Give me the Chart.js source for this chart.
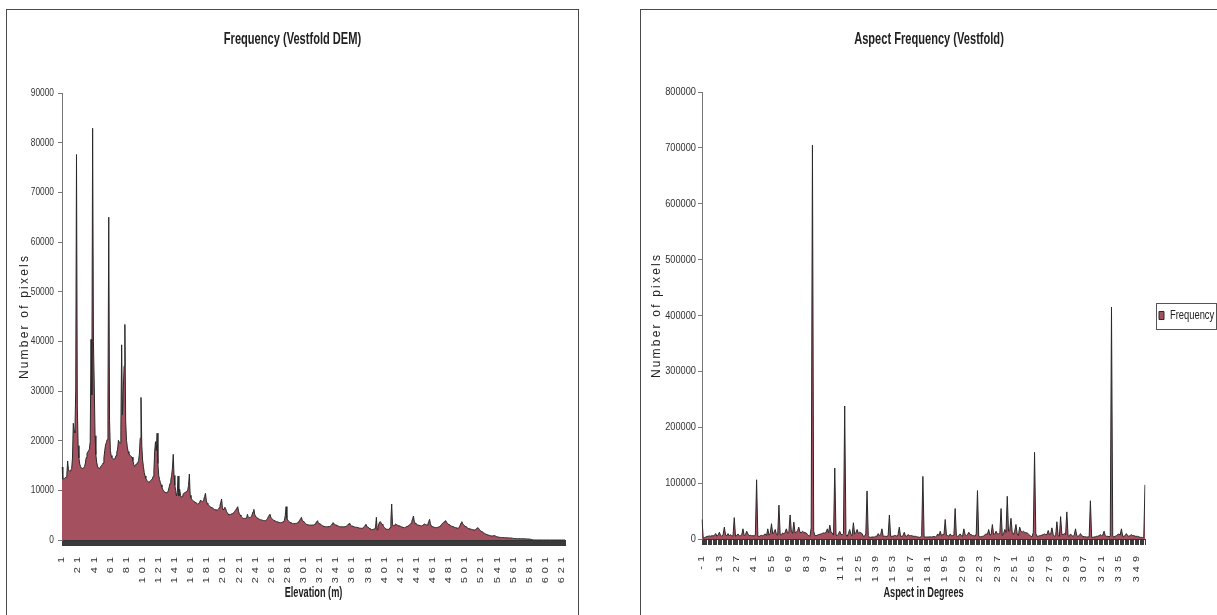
<!DOCTYPE html>
<html><head><meta charset="utf-8">
<script src="https://cdn.jsdelivr.net/npm/chart.js@4.4.1/dist/chart.umd.min.js"></script>
<style>
html,body{margin:0;padding:0;background:#fff;overflow:hidden;width:1217px;height:615px;}
.box{position:absolute;border:1px solid #4a4a4a;background:#fff;}
#boxL{left:6px;top:9px;width:571px;height:620px;}
#boxR{left:640px;top:9px;width:600px;height:620px;}
canvas{position:absolute;left:0;top:0;}
</style></head>
<body>
<div class="box" id="boxL"><canvas id="cL" width="571" height="605"></canvas></div>
<div class="box" id="boxR"><canvas id="cR" width="576" height="605"></canvas></div>
<script>
// ---------- DATA ----------
const elevationTickLabels = [1,21,41,61,81,101,121,141,161,181,201,221,241,261,281,301,321,341,361,381,401,421,441,461,481,501,521,541,561,581,601,621];
const aspectTickLabels = [-1,13,27,41,55,69,83,97,111,125,139,153,167,181,195,209,223,237,251,265,279,293,307,321,335,349];
const elevationYTicks = [0,10000,20000,30000,40000,50000,60000,70000,80000,90000];
const aspectYTicks = [0,100000,200000,300000,400000,500000,600000,700000,800000];

// Elevation 1..625 (m), number of pixels
const elevationCounts = [
14700,12300,12300,12400,12500,12700,13200,15900,14100,13900,13900,14100,14400,16500,23500,22000,21600,30000,77600,27000,
19000,16500,15300,14800,14500,14400,14400,14500,14800,15500,16600,17400,17700,18000,18300,19800,40400,29200,82900,39900,
31200,21000,17200,15700,14900,14500,14400,14500,14800,15000,15200,15500,16500,18000,19100,19600,20200,27000,65000,24000,
18000,17000,16600,16400,16300,16300,16500,17000,17700,18300,20100,19700,19500,22000,39300,25200,30000,35000,43400,24000,
20100,18800,17800,17400,17100,16900,16800,16700,16000,15200,14800,15000,15300,15400,15500,16000,17300,20500,28700,19000,
16100,14800,13600,12900,12400,12100,11800,11700,11700,11800,12000,12100,12300,12800,14000,17900,19800,18000,21500,15400,
13000,12200,11600,11100,10600,10200,9900,9700,9600,9500,9500,9600,10000,10700,11400,12100,13000,14500,17250,13000,
11000,10000,8860,9500,12890,8860,10200,9000,8590,8800,9100,9400,9500,9600,9700,9800,10070,11000,13290,9000,
8500,8200,8000,7850,7750,7650,7500,7350,7250,7300,7500,7750,8050,7800,7720,7900,8300,8800,9400,8000,
7400,7150,7000,6850,6700,6580,6500,6400,6300,6170,6100,6050,6040,6050,6200,6500,7000,7600,8260,6500,
6040,6300,6600,6300,5800,5500,5250,5030,5100,5150,5230,5300,5400,5500,5700,5950,6200,6450,6710,5800,
5300,5030,4800,4600,4450,4360,4350,4350,4360,4400,5170,4700,4500,4550,4600,4700,5200,5700,6170,5200,
4830,4600,4450,4350,4250,4160,4100,4050,4000,3950,3920,3900,3890,3950,4100,4350,4700,5000,5170,4600,
4360,4200,4050,3950,3850,3750,3700,3690,3600,3550,3500,3490,3520,3580,3650,3700,4000,5000,6710,4300,
4030,3800,3650,3550,3450,3360,3330,3300,3300,3320,3340,3360,3450,3600,3800,4000,4300,4560,4000,3800,
3690,3500,3350,3200,3100,3050,3020,3000,3000,3000,3010,3020,3020,3100,3250,3450,3700,3890,3500,3300,
3220,3100,3000,2900,2800,2750,2700,2680,2670,2670,2680,2680,2720,2800,2950,3200,3490,3400,3150,3050,
3020,2950,2850,2780,2720,2680,2660,2650,2650,2660,2670,2680,2720,2800,2950,3150,3300,3360,3000,2850,
2820,2750,2680,2620,2580,2560,2550,2500,2450,2400,2380,2360,2350,2400,2500,2700,2950,3150,2800,2600,
2550,2400,2250,2150,2100,2100,2150,2150,2200,2600,4560,2010,2600,3200,3600,3690,3400,3200,3020,2700,
2500,2350,2200,2150,2150,2150,2150,2500,4000,7250,3200,2820,2900,3100,3220,3100,3000,2900,2850,2820,
2750,2650,2600,2550,2500,2480,2550,2650,2750,2820,2900,3050,3200,3360,3800,4300,4830,3800,3400,3220,
3150,3050,3000,2950,2900,2850,2820,2900,3050,3150,3220,3100,3050,3020,3300,3700,4160,3300,2820,2750,
2650,2600,2550,2500,2480,2500,2550,2600,2680,2800,2950,3150,3360,3500,3650,3800,3900,3600,3350,3220,
3100,3000,2900,2800,2750,2680,2620,2550,2500,2450,2400,2350,2400,2600,3000,3400,3690,3300,3100,2950,
2800,2650,2550,2450,2350,2280,2200,2160,2150,2100,2050,2020,2010,2100,2250,2400,2480,2300,2100,1900,
1750,1650,1550,1450,1350,1250,1150,1100,1050,1000,950,880,820,800,820,860,870,850,780,700,
650,600,560,540,520,510,500,490,480,470,460,450,440,430,420,410,405,400,380,350,
320,300,290,280,270,270,270,270,270,270,270,270,260,250,240,230,220,210,205,200,
200,150,100,60,30,20,20,10,10,10,10,10,10,5,5,5,5,5,5,5,
5,5,5,5,3,3,3,3,3,3,2,2,2,2,2,2,1,1,1,1,
1,1,1,1,1
];

// Aspect -1..356 (degrees), number of pixels
const aspectCounts = [
35000,1500,2500,3500,4500,5000,5500,5000,6000,5500,
6500,9700,5000,7000,12100,6000,5000,8000,21200,7000,
6000,9700,5500,7900,5000,6000,38200,5000,6500,9100,
5500,6000,7000,18200,6000,7500,13900,9000,6060,6500,
6000,6000,5500,7000,106000,5000,4500,6000,6500,5500,
7900,9000,6000,18200,7000,10000,27300,9000,12000,17000,
8000,7000,60600,8000,7000,10900,9000,12000,18200,10000,
12000,43000,13900,10000,30300,10900,12000,15000,21200,12100,
11000,13900,12000,11000,10900,8000,6060,5000,20000,705000,
14000,6000,6060,7000,8000,8500,9000,10000,11000,10500,
12000,18200,11000,24800,12000,10900,7000,127000,7000,6060,
9000,13900,8000,7900,10000,238000,8000,4800,10000,17000,
8000,6060,29100,9000,10900,17000,10000,12100,11000,9700,
4800,5000,9000,86000,6000,3000,3000,3600,3600,3600,
5000,5000,9700,6060,8000,18200,4800,5000,4800,4800,
6000,43000,5000,4800,5000,6060,6060,5000,8000,21200,
5000,4800,6000,12100,5000,4800,7900,6060,6000,6060,
5000,4800,4800,4000,3600,3000,3000,6000,112000,4000,
3600,3600,3600,3600,4000,3600,4000,4500,3600,5000,
9100,6000,13900,6000,7900,8000,35000,7000,6060,5000,
9100,6000,6060,7000,54500,6000,4800,6000,9100,6000,
4800,18200,7900,6000,7900,12100,7900,7900,6060,6060,
5000,9000,86700,5000,3600,4000,4800,5000,7900,9000,
8000,17000,7000,7900,26000,7900,9000,13900,9100,9100,
10000,54500,6060,9000,17000,12000,76400,13900,15000,37000,
12000,7900,14000,26000,9000,6060,21200,14000,12100,13900,
12000,11000,10900,9000,7000,4800,4000,12000,155000,10000,
4800,5000,6000,6060,7000,7900,9100,7900,8000,15200,
7900,9000,20000,8000,4800,6000,30900,6000,4800,40000,
7900,8000,9700,8000,48500,6000,4800,9100,6000,4800,
7000,18200,6000,4800,6000,9700,6000,4800,4000,4000,
3600,3600,4000,68500,3000,3000,3600,4000,4800,5000,
6000,7900,6000,7000,13900,6000,4800,4800,4000,5000,
415000,5000,3600,5000,6000,7900,9000,7000,18200,4800,
5000,6000,9700,6000,4800,6000,7900,6060,6060,5000,
4800,4800,4000,3000,3000,2500,3000,97000
];

// categories (axis positions)
const elevationCategories = Array.from({length: elevationCounts.length}, (_, i) => i + 1);
const aspectCategories = Array.from({length: aspectCounts.length}, (_, i) => i - 1);

// ---------- STYLE ----------
const FONT = "'Liberation Sans',Arial,sans-serif";
const FILL = '#a5505f';
const LINE = '#2a2a2a';

// text helpers: horizontal condensing (narrow font look) and squashing of rotated glyphs
function installTextHelpers(ctx) {
  const orig = ctx.fillText;
  ctx.fillText = function (t, x, y, mw) {
    const f = this.__condense, p = this.__perp;
    if (p && p !== 1) {
      this.save(); this.scale(1, p);
      orig.call(this, t, x, y / p);
      this.restore();
      return;
    }
    if (f && f !== 1) {
      const w = this.measureText(t).width * f;
      return orig.call(this, t, x, y, mw === undefined ? w : Math.min(mw, w));
    }
    return mw === undefined ? orig.call(this, t, x, y) : orig.call(this, t, x, y, mw);
  };
}
function wrapDraw(obj, name, cfg) {
  if (!obj || obj['__w_' + name]) return;
  const o = obj[name];
  obj[name] = function (...a) {
    const c = this.ctx;
    const pc = c.__condense, pp = c.__perp, ps = c.letterSpacing;
    c.__condense = cfg.condense || 1; c.__perp = cfg.perp || 1;
    if (cfg.spacing) c.letterSpacing = cfg.spacing;
    try { return o.apply(this, a); }
    finally { c.__condense = pc; c.__perp = pp; c.letterSpacing = ps || '0px'; }
  };
  obj['__w_' + name] = true;
}

const textPatch = {
  id: 'textPatch',
  beforeInit(chart) { installTextHelpers(chart.ctx); },
  beforeLayout(chart, args, opts) {
    wrapDraw(chart.titleBlock, 'draw', { condense: opts.title });
    wrapDraw(chart.scales.x, 'drawLabels', { perp: 0.75, spacing: '4px' });
    wrapDraw(chart.scales.x, 'drawTitle', { condense: opts.xTitle });
    wrapDraw(chart.scales.y, 'drawLabels', { condense: opts.yTicks });
    wrapDraw(chart.scales.y, 'drawTitle', { spacing: '2.2px' });
    const lg = chart.legend;
    if (lg && opts.legendWidth) {
      wrapDraw(lg, 'draw', { condense: 0.78 });
      if (!lg.__fitp) {
        const f = lg.fit;
        lg.fit = function () { f.call(this); this.width = opts.legendWidth; };
        lg.__fitp = true;
      }
    }
  },
  afterDraw(chart, args, opts) {
    const lg = chart.legend;
    if (!lg || !opts.legendWidth || !lg.legendHitBoxes || !lg.legendHitBoxes.length) return;
    const hb = lg.legendHitBoxes[0];
    const ctx = chart.ctx;
    ctx.save();
    ctx.font = '12px ' + FONT;
    const tw = ctx.measureText(lg.legendItems[0].text).width * 0.78;
    ctx.strokeStyle = '#555';
    ctx.lineWidth = 1;
    const x0 = Math.round(hb.left - 3) + 0.5, y0 = Math.round(hb.top - 7) + 0.5;
    ctx.strokeRect(x0, y0, Math.round(5 + 6 + tw + 5), 26);
    ctx.restore();
  }
};

function makeChart(id, cfg) {
  const tickSet = new Set(cfg.tickLabels);
  return new Chart(document.getElementById(id), {
    type: 'line',
    data: {
      labels: cfg.categories,
      datasets: [{
        label: 'Frequency',
        data: cfg.values,
        fill: 'origin',
        backgroundColor: FILL,
        borderColor: LINE,
        borderWidth: 1,
        pointRadius: 0,
        tension: 0
      }]
    },
    options: {
      responsive: false,
      animation: false,
      devicePixelRatio: 1,
      events: [],
      layout: { padding: cfg.padding },
      plugins: {
        title: {
          display: true, text: cfg.title, color: '#222',
          font: { family: FONT, size: 17, weight: 'bold', lineHeight: 1.2 },
          padding: { top: 19.3, bottom: cfg.titleBottom }
        },
        legend: cfg.legend,
        tooltip: { enabled: false },
        textPatch: { title: 0.652, xTitle: 0.613, yTicks: cfg.yCondense, legendWidth: cfg.legendWidth || 0 }
      },
      scales: {
        x: {
          grid: { display: true, drawOnChartArea: false, drawTicks: true, tickLength: 6, color: '#3a3a3a', lineWidth: 1 },
          border: { display: true, color: '#333' },
          ticks: {
            autoSkip: false, minRotation: 90, maxRotation: 90, padding: 7, color: '#333',
            font: { family: FONT, size: 11 },
            callback(v) { const l = this.getLabelForValue(v); return tickSet.has(l) ? String(l) : ''; }
          },
          title: { display: true, text: cfg.xTitle, color: '#222', font: { family: FONT, size: 15, weight: 'bold', lineHeight: 1.2 }, padding: { top: 0, bottom: 13 } },
          afterFit(s) { s.height = cfg.xHeight; s.paddingLeft = 0; s.paddingRight = 0; }
        },
        y: {
          min: 0, max: cfg.yTicks[cfg.yTicks.length - 1],
          afterBuildTicks(s) { s.ticks = cfg.yTicks.map(v => ({ value: v })); },
          grid: { display: true, drawOnChartArea: false, drawTicks: true, tickLength: 4, color: '#777' },
          border: { display: true, color: '#777' },
          ticks: { padding: cfg.yPad, color: '#333', font: { family: FONT, size: 11 }, callback: v => String(v) },
          title: { display: true, text: 'Number of pixels', color: '#222', font: { family: FONT, size: 12, lineHeight: 1.2 }, padding: { top: cfg.yTitlePad, bottom: 0 } },
          afterFit(s) { s.width = cfg.yWidth; }
        }
      }
    },
    plugins: [textPatch]
  });
}

makeChart('cL', {
  categories: elevationCategories, values: elevationCounts, tickLabels: elevationTickLabels,
  yTicks: elevationYTicks, title: 'Frequency (Vestfold DEM)', xTitle: 'Elevation (m)',
  padding: { left: 13, right: 13, top: 0, bottom: 0 }, titleBottom: 43.3,
  xHeight: 75, yWidth: 42, yPad: 4, yCondense: 0.76, yTitlePad: -2.5,
  legend: { display: false }
});

makeChart('cR', {
  categories: aspectCategories, values: aspectCounts, tickLabels: aspectTickLabels,
  yTicks: aspectYTicks, title: 'Aspect Frequency (Vestfold)', xTitle: 'Aspect in Degrees',
  padding: { left: 0, right: 0, top: 0, bottom: 0 }, titleBottom: 42.3,
  xHeight: 76, yWidth: 61, yPad: 2, yCondense: 0.84, yTitlePad: 8.5,
  legendWidth: 72,
  legend: {
    display: true, position: 'right', fullSize: false,
    labels: { boxWidth: 5, boxHeight: 8, padding: 14, color: '#222', font: { family: FONT, size: 12 } }
  }
});
</script>
</body></html>
